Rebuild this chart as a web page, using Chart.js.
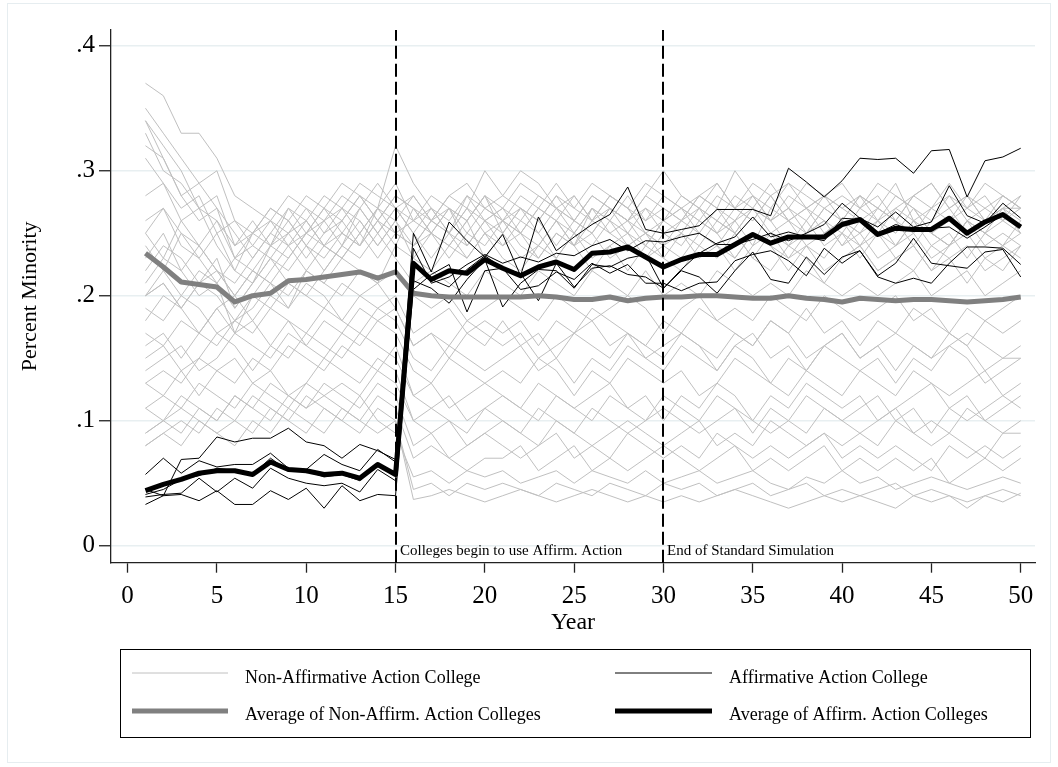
<!DOCTYPE html>
<html><head><meta charset="utf-8">
<script src="https://cdn.jsdelivr.net/npm/chart.js@4.4.1/dist/chart.umd.min.js"></script>
<style>html,body{margin:0;padding:0;background:#fff;}#wrap{width:1058px;height:767px;position:relative;}</style>
</head><body><div id="wrap"><canvas id="c" width="1058" height="767"></canvas></div>
<script>
const years = [1,2,3,4,5,6,7,8,9,10,11,12,13,14,15,16,17,18,19,20,21,22,23,24,25,26,27,28,29,30,31,32,33,34,35,36,37,38,39,40,41,42,43,44,45,46,47,48,49,50];
const xTicks = [0,5,10,15,20,25,30,35,40,45,50];
const yTicks = [0,0.1,0.2,0.3,0.4];
const eventYears = [15,30];
const eventLabels = ['Colleges begin to use Affirm. Action','End of Standard Simulation'];
const legendLabels = ['Non-Affirmative Action College','Affirmative Action College','Average of Non-Affirm. Action Colleges','Average of Affirm. Action Colleges'];

const avgNonAA = [.234,.223,.211,.209,.207,.195,.200,.202,.212,.213,.215,.217,.219,.214,.219,
 .202,.200,.199,.199,.199,.199,.199,.200,.199,.197,.197,.199,.196,.198,.199,
 .199,.200,.200,.199,.198,.198,.200,.198,.197,.195,.198,.197,.196,.197,.197,.196,.195,.196,.197,.199];
const avgAA = [.044,.049,.053,.058,.060,.060,.057,.067,.061,.060,.057,.058,.054,.065,.057,
 .226,.213,.220,.218,.229,.222,.216,.223,.227,.221,.234,.235,.239,.231,.223,
 .229,.233,.233,.241,.249,.242,.247,.247,.247,.257,.261,.249,.254,.253,.253,.262,.250,.259,.265,.255];

const aa1 = [.045,.040,.069,.070,.087,.083,.086,.086,.094,.083,.080,.070,.081,.076,.069,
 .250,.219,.259,.244,.231,.249,.216,.263,.236,.247,.257,.265,.287,.253,.250,
 .253,.256,.269,.269,.269,.264,.302,.291,.279,.292,.310,.309,.310,.298,.316,.317,.279,.308,.311,.318];
const aa2 = [.057,.070,.058,.068,.063,.065,.065,.074,.062,.061,.073,.065,.060,.077,.067,
 .238,.210,.215,.225,.233,.226,.231,.227,.234,.232,.240,.245,.236,.244,.243,
 .247,.250,.241,.241,.245,.250,.244,.250,.257,.274,.262,.255,.267,.255,.259,.288,.264,.258,.274,.262];
const aa3 = [.033,.040,.041,.036,.044,.033,.033,.044,.037,.046,.030,.048,.036,.041,.040,
 .212,.206,.194,.213,.229,.191,.210,.221,.220,.206,.225,.223,.230,.233,.206,
 .220,.215,.202,.220,.235,.213,.210,.231,.217,.231,.236,.215,.210,.214,.210,.226,.239,.239,.238,.225];
const aa4 = [.039,.041,.042,.054,.043,.054,.046,.062,.054,.050,.048,.050,.043,.061,.052,
 .205,.217,.225,.187,.220,.222,.205,.208,.219,.213,.226,.218,.225,.210,.210,
 .204,.210,.211,.228,.233,.236,.228,.216,.238,.226,.236,.216,.226,.246,.226,.224,.222,.235,.237,.215];
const aa5 = [.041,.045,.053,.056,.062,.060,.057,.070,.060,.060,.055,.057,.052,.066,.058,
 .225,.213,.207,.221,.232,.222,.218,.196,.226,.207,.222,.224,.217,.215,.206,
 .221,.234,.242,.247,.263,.247,.251,.247,.244,.262,.261,.250,.257,.252,.254,.255,.246,.255,.265,.255];

const n01 = [.37,.36,.33,.33,.31,.28,.27,.26,.28,.27, .26,.27,.25,.27,.32,.29,.27,.25,.27,.26, .27,.26,.28,.27,.25,.27,.26,.28,.26,.27, .26,.28,.27,.25,.27,.26,.28,.27,.26,.25, .27,.26,.28,.27,.25,.26,.28,.26,.27,.27];
const n02 = [.35,.33,.31,.29,.30,.26,.25,.27,.26,.28, .27,.29,.28,.26,.28,.27,.26,.28,.27,.30, .28,.27,.26,.28,.27,.29,.28,.27,.26,.28, .27,.28,.29,.27,.28,.26,.27,.29,.28,.27, .28,.26,.27,.28,.29,.27,.28,.27,.26,.28];
const n03 = [.34,.32,.30,.27,.26,.24,.25,.26,.24,.25, .26,.24,.27,.25,.27,.26,.25,.27,.24,.26, .25,.27,.26,.24,.26,.25,.27,.26,.25,.24, .26,.25,.24,.26,.27,.25,.26,.24,.25,.26, .24,.26,.25,.27,.25,.24,.26,.25,.24,.26];
const n04 = [.34,.31,.28,.29,.27,.25,.23,.25,.27,.26, .28,.27,.29,.28,.27,.25,.27,.26,.28,.27, .26,.28,.27,.29,.27,.26,.28,.27,.25,.26, .28,.27,.26,.28,.27,.29,.27,.26,.28,.27, .26,.27,.29,.26,.27,.28,.26,.27,.28,.27];
const n05 = [.33,.30,.29,.27,.28,.24,.26,.24,.25,.27, .25,.26,.24,.26,.25,.24,.26,.25,.23,.25, .24,.26,.25,.23,.25,.24,.26,.24,.25,.23, .25,.24,.26,.25,.23,.25,.24,.26,.24,.25, .23,.25,.24,.26,.24,.25,.23,.25,.24,.25];
const n06 = [.32,.31,.28,.26,.27,.23,.24,.26,.25,.23, .25,.27,.26,.24,.26,.28,.26,.27,.25,.27, .26,.25,.27,.26,.28,.26,.27,.25,.27,.26, .27,.26,.25,.27,.26,.28,.26,.27,.25,.26, .28,.27,.26,.25,.27,.26,.27,.28,.26,.27];
const n07 = [.31,.29,.27,.28,.25,.26,.24,.23,.25,.26, .24,.26,.28,.27,.29,.26,.28,.27,.26,.28, .27,.29,.28,.27,.26,.28,.27,.26,.28,.27, .26,.28,.27,.30,.28,.27,.29,.28,.27,.28, .27,.29,.28,.27,.26,.28,.27,.29,.28,.27];
const n08 = [.28,.29,.26,.27,.24,.22,.25,.24,.27,.25, .27,.25,.24,.27,.26,.24,.25,.23,.25,.24, .26,.24,.23,.25,.24,.26,.25,.24,.23,.25, .24,.26,.25,.23,.25,.24,.23,.25,.26,.24, .25,.23,.24,.25,.23,.24,.26,.24,.25,.24];
const n09 = [.26,.27,.25,.24,.26,.23,.25,.27,.26,.24, .26,.28,.27,.29,.27,.28,.26,.28,.29,.27, .28,.30,.29,.27,.28,.26,.28,.27,.29,.28, .27,.26,.28,.27,.29,.28,.26,.27,.28,.29, .27,.28,.26,.28,.27,.29,.27,.26,.28,.27];
const n10 = [.25,.23,.26,.24,.22,.21,.23,.25,.24,.26, .24,.25,.27,.25,.27,.25,.23,.25,.24,.26, .24,.25,.23,.25,.24,.22,.24,.25,.23,.24, .25,.23,.24,.22,.24,.25,.23,.24,.22,.23, .24,.22,.23,.24,.22,.23,.24,.22,.23,.24];
const n11 = [.25,.27,.24,.23,.25,.22,.21,.24,.23,.25, .27,.26,.28,.26,.28,.27,.25,.27,.26,.28, .25,.27,.26,.28,.26,.25,.27,.26,.24,.26, .27,.25,.27,.26,.28,.26,.27,.25,.27,.26, .25,.27,.26,.24,.26,.27,.25,.26,.27,.26];
const n12 = [.24,.22,.25,.23,.21,.23,.22,.24,.26,.24, .23,.25,.24,.26,.24,.23,.22,.24,.23,.25, .23,.22,.24,.23,.25,.23,.24,.22,.24,.23, .22,.24,.23,.25,.23,.22,.24,.23,.21,.23, .24,.22,.23,.22,.24,.23,.21,.23,.22,.24];
const n13 = [.23,.25,.22,.24,.22,.20,.22,.21,.23,.25, .24,.23,.25,.23,.25,.26,.27,.25,.28,.26, .27,.25,.27,.26,.24,.27,.25,.26,.27,.25, .26,.27,.25,.26,.24,.27,.26,.25,.27,.26, .25,.26,.24,.26,.25,.24,.26,.25,.27,.25];
const n14 = [.22,.24,.23,.21,.23,.19,.21,.23,.22,.24, .22,.24,.26,.24,.26,.23,.25,.24,.26,.23, .25,.23,.24,.26,.24,.25,.23,.24,.25,.24, .23,.25,.24,.23,.25,.24,.22,.24,.23,.25, .24,.25,.23,.24,.22,.24,.25,.23,.24,.23];
const n15 = [.21,.23,.22,.20,.21,.17,.20,.22,.24,.22, .24,.23,.25,.27,.25,.24,.26,.25,.27,.25, .26,.25,.24,.26,.25,.27,.26,.25,.24,.26, .25,.27,.26,.25,.27,.26,.24,.25,.26,.24, .26,.25,.27,.26,.25,.24,.26,.25,.26,.25];
const n16 = [.20,.22,.20,.22,.21,.19,.21,.23,.21,.20, .22,.24,.23,.25,.23,.21,.22,.21,.20,.22, .21,.20,.22,.21,.20,.22,.21,.20,.22,.20, .21,.20,.22,.21,.20,.21,.20,.22,.21,.20, .21,.20,.21,.22,.20,.21,.22,.20,.21,.22];
const n17 = [.20,.21,.19,.21,.22,.20,.22,.21,.19,.22, .21,.23,.22,.21,.24,.27,.25,.24,.26,.28, .26,.27,.25,.27,.26,.28,.27,.26,.28,.30, .28,.27,.29,.27,.26,.28,.29,.27,.28,.26, .28,.27,.26,.28,.29,.27,.28,.26,.27,.28];
const n18 = [.20,.21,.19,.21,.20,.18,.19,.21,.20,.22, .21,.20,.22,.21,.22,.20,.19,.20,.18,.19, .20,.19,.18,.20,.19,.18,.19,.20,.19,.17, .19,.20,.18,.19,.18,.20,.19,.18,.20,.19, .18,.19,.20,.18,.19,.17,.19,.18,.19,.20];
const n19 = [.19,.18,.20,.19,.17,.18,.20,.19,.21,.20, .19,.21,.20,.19,.20,.17,.18,.19,.17,.18, .17,.18,.16,.18,.17,.19,.18,.17,.16,.18, .17,.19,.18,.17,.16,.18,.17,.19,.17,.18, .16,.18,.17,.19,.18,.17,.16,.18,.17,.18];
const n20 = [.18,.20,.19,.17,.19,.20,.18,.20,.19,.21, .20,.18,.20,.21,.19,.16,.17,.15,.17,.16, .18,.16,.17,.15,.17,.16,.15,.17,.16,.15, .17,.16,.14,.16,.17,.15,.16,.14,.16,.17, .15,.16,.14,.16,.15,.17,.16,.14,.15,.16];
const n21 = [.17,.16,.18,.17,.19,.17,.18,.16,.18,.17, .19,.18,.17,.19,.18,.15,.14,.16,.15,.14, .15,.16,.14,.15,.13,.15,.14,.16,.15,.14, .16,.15,.14,.16,.15,.13,.15,.14,.16,.15, .14,.15,.13,.15,.14,.16,.15,.13,.14,.15];
const n22 = [.16,.17,.15,.17,.16,.18,.17,.19,.18,.16, .18,.17,.19,.18,.17,.14,.13,.15,.14,.13, .14,.13,.15,.14,.12,.14,.13,.15,.14,.13, .14,.12,.13,.15,.14,.13,.12,.14,.13,.12, .14,.13,.12,.14,.13,.12,.13,.14,.12,.13];
const n23 = [.15,.16,.14,.15,.17,.16,.14,.16,.15,.17, .16,.15,.17,.16,.15,.12,.13,.11,.12,.13, .12,.11,.13,.12,.11,.12,.13,.11,.12,.10, .12,.11,.13,.12,.10,.12,.11,.13,.12,.11, .12,.10,.11,.12,.13,.11,.12,.10,.11,.12];
const n24 = [.13,.14,.13,.15,.14,.13,.15,.14,.16,.15, .14,.16,.15,.14,.16,.12,.11,.12,.10,.11, .12,.11,.10,.12,.11,.10,.12,.11,.10,.12, .11,.10,.12,.11,.09,.11,.10,.12,.11,.10, .11,.12,.10,.11,.09,.11,.10,.11,.12,.11];
const n25 = [.13,.12,.14,.12,.14,.15,.13,.14,.12,.13, .15,.14,.13,.15,.14,.10,.11,.10,.09,.11, .10,.09,.11,.10,.09,.11,.10,.09,.10,.11, .10,.09,.10,.11,.10,.09,.10,.09,.11,.10, .09,.10,.11,.09,.10,.09,.11,.10,.09,.10];
const n26 = [.11,.12,.11,.13,.12,.11,.13,.12,.11,.13, .12,.13,.12,.14,.13,.10,.09,.10,.08,.09, .10,.09,.08,.10,.09,.08,.09,.10,.09,.08, .09,.10,.08,.09,.08,.10,.09,.08,.09,.08, .09,.08,.10,.09,.08,.09,.08,.07,.09,.09];
const n27 = [.11,.10,.12,.11,.10,.12,.11,.13,.12,.11, .13,.12,.11,.13,.12,.08,.09,.07,.08,.09, .08,.07,.08,.09,.07,.08,.07,.09,.08,.07, .08,.07,.09,.08,.07,.08,.07,.08,.09,.07, .08,.07,.08,.07,.06,.08,.07,.08,.07,.08];
const n28 = [.09,.10,.09,.11,.10,.12,.11,.10,.12,.11, .12,.11,.10,.12,.11,.07,.08,.07,.06,.07, .07,.08,.06,.07,.08,.06,.07,.06,.07,.08, .07,.06,.07,.08,.06,.07,.06,.07,.08,.06, .07,.06,.07,.06,.07,.05,.06,.07,.06,.07];
const n29 = [.09,.10,.11,.10,.09,.10,.12,.11,.10,.12, .11,.10,.12,.10,.09,.055,.06,.05,.06,.055, .06,.05,.055,.06,.05,.06,.055,.05,.06,.05, .055,.06,.05,.055,.06,.05,.045,.055,.05,.06, .05,.055,.045,.05,.055,.05,.045,.05,.055,.05];
const n30 = [.08,.09,.08,.10,.09,.08,.10,.09,.11,.10, .09,.11,.10,.09,.10,.045,.05,.04,.05,.045, .05,.045,.04,.05,.045,.04,.05,.045,.04,.05, .045,.05,.04,.045,.05,.04,.045,.05,.04,.045, .04,.045,.05,.04,.045,.04,.03,.04,.045,.04];
const n31 = [.08,.09,.10,.09,.11,.10,.09,.11,.10,.09, .11,.10,.09,.11,.10,.037,.04,.045,.04,.035, .04,.045,.04,.035,.04,.045,.04,.035,.04,.035, .04,.035,.04,.045,.04,.035,.03,.035,.04,.035, .04,.035,.03,.04,.035,.04,.035,.04,.035,.042];
const n32 = [.14,.15,.16,.14,.15,.17,.16,.15,.17,.16, .15,.17,.16,.18,.19,.16,.17,.16,.18,.17, .16,.17,.15,.16,.17,.18,.16,.17,.15,.16, .17,.16,.15,.17,.16,.18,.17,.15,.16,.17, .15,.16,.17,.16,.15,.16,.17,.16,.15,.15];

const nonAACollegeSeries = [n01,n02,n03,n04,n05,n06,n07,n08,n09,n10,n11,n12,n13,n14,n15,n16,n17,n18,n19,n20,n21,n22,n23,n24,n25,n26,n27,n28,n29,n30,n31,n32];
const aaCollegeSeries = [aa1,aa2,aa3,aa4,aa5];

const SERIF = '"Liberation Serif","Times New Roman",serif';
const toPts = arr => arr.map((v,i) => ({x: years[i], y: v}));

const datasets = [];
datasets.push({label: legendLabels[3], data: toPts(avgAA), borderColor:'#000', borderWidth:5, order:0});
datasets.push({label: legendLabels[2], data: toPts(avgNonAA), borderColor:'#808080', borderWidth:5, order:1});
aaCollegeSeries.forEach((s,k) => datasets.push({label: legendLabels[1]+' '+(k+1), data: toPts(s), borderColor:'#000', borderWidth:1, order:2}));
nonAACollegeSeries.forEach((s,k) => datasets.push({label: legendLabels[0]+' '+(k+1), data: toPts(s), borderColor:'#c0c0c0', borderWidth:1, order:3}));

const decor = {
  id: 'decor',
  beforeDraw(chart) {
    const ctx = chart.ctx;
    ctx.save();
    ctx.fillStyle = '#fff';
    ctx.fillRect(0,0,chart.width,chart.height);
    ctx.strokeStyle = '#e6edf0';
    ctx.lineWidth = 1;
    ctx.strokeRect(7.5, 3.5, 1043, 759);
    ctx.restore();
  },
  afterDatasetsDraw(chart) {
    const ctx = chart.ctx, xs = chart.scales.x, area = chart.chartArea;
    ctx.save();
    eventYears.forEach((yr, k) => {
      const px = Math.round(xs.getPixelForValue(yr));
      ctx.strokeStyle = '#000';
      ctx.lineWidth = 2;
      ctx.setLineDash([13,5]);
      ctx.beginPath();
      ctx.moveTo(px, area.bottom);
      ctx.lineTo(px, area.top);
      ctx.stroke();
      ctx.setLineDash([]);
      ctx.fillStyle = '#000';
      ctx.font = '15px ' + SERIF;
      ctx.textBaseline = 'alphabetic';
      ctx.textAlign = 'left';
      ctx.fillText(eventLabels[k], px + 4, 555);
    });
    ctx.restore();
  },
  afterDraw(chart) {
    const ctx = chart.ctx;
    ctx.save();
    ctx.strokeStyle = '#000';
    ctx.lineWidth = 1;
    ctx.strokeRect(120.5, 649.5, 910, 88);
    const items = [
      {x1:132, x2:228, y:673, color:'#c0c0c0', w:1, tx:245, ty:683, t:legendLabels[0]},
      {x1:615, x2:712, y:673, color:'#000', w:1, tx:729, ty:683, t:legendLabels[1]},
      {x1:132, x2:228, y:711, color:'#808080', w:5, tx:245, ty:720, t:legendLabels[2]},
      {x1:615, x2:712, y:711, color:'#000', w:5, tx:729, ty:720, t:legendLabels[3]}
    ];
    items.forEach(it => {
      ctx.strokeStyle = it.color; ctx.lineWidth = it.w;
      ctx.beginPath(); ctx.moveTo(it.x1, it.y); ctx.lineTo(it.x2, it.y); ctx.stroke();
      ctx.fillStyle = '#000'; ctx.font = '18px ' + SERIF;
      ctx.textAlign = 'left'; ctx.textBaseline = 'alphabetic';
      ctx.fillText(it.t, it.tx, it.ty);
    });
    ctx.restore();
  }
};

new Chart(document.getElementById('c'), {
  type: 'line',
  data: {datasets},
  options: {
    responsive: false,
    animation: false,
    devicePixelRatio: 1,
    layout: {padding: {left: 0, top: 30, right: 23, bottom: 124.3}},
    elements: {point: {radius: 0}, line: {tension: 0, borderJoinStyle: 'round', borderCapStyle: 'butt'}},
    plugins: {legend: {display: false}, tooltip: {enabled: false}},
    scales: {
      x: {
        type: 'linear', min: -0.93, max: 50.8,
        afterFit(s) { s.height = 80; },
        afterBuildTicks(s) { s.ticks = xTicks.map(v => ({value: v})); },
        grid: {drawOnChartArea: false, drawTicks: true, tickLength: 10, tickColor: '#222', tickWidth: 1.3},
        border: {display: true, color: '#222', width: 1.3},
        ticks: {color: '#000', font: {family: SERIF, size: 25}, padding: 9, maxRotation: 0, autoSkip: false},
        title: {display: true, text: 'Year', color: '#000', font: {family: SERIF, size: 24}, padding: {top: 0, bottom: 6}}
      },
      y: {
        type: 'linear', min: -0.0136, max: 0.4126,
        afterFit(s) { s.width = 111; },
        afterBuildTicks(s) { s.ticks = yTicks.map(v => ({value: v})); },
        grid: {drawOnChartArea: true, color: '#e8eff1', lineWidth: 1.5, drawTicks: true, tickLength: 12, tickColor: '#222', tickWidth: 1.3},
        border: {display: true, color: '#222', width: 1.3},
        ticks: {color: '#000', font: {family: SERIF, size: 25}, padding: 4,
          callback: v => v === 0 ? '0' : ('.' + Math.round(v * 10))},
        title: {display: true, text: 'Percent Minority', color: '#000', font: {family: SERIF, size: 22}, padding: {top: 17, bottom: 0}}
      }
    }
  },
  plugins: [decor]
});
</script></body></html>
